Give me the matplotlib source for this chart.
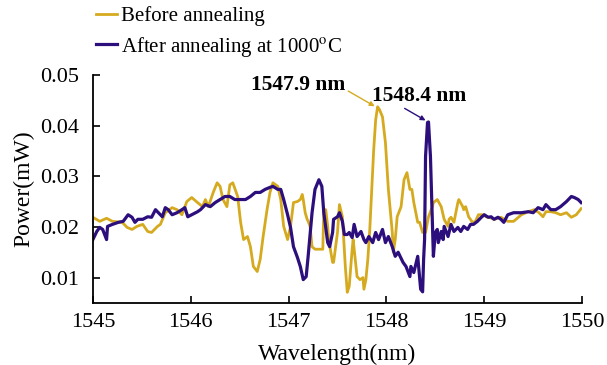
import numpy as np
import matplotlib
matplotlib.use("Agg")
import matplotlib.pyplot as plt

# values
wl_before = [1545.00, 1545.07, 1545.14, 1545.20, 1545.30, 1545.35, 1545.40, 1545.45, 1545.51, 1545.56,
             1545.60, 1545.66, 1545.69, 1545.74, 1545.81, 1545.86, 1545.91, 1545.96, 1546.01, 1546.07,
             1546.12, 1546.15, 1546.18, 1546.23, 1546.27, 1546.30, 1546.33, 1546.37, 1546.40, 1546.43,
             1546.48, 1546.51, 1546.54, 1546.58, 1546.61, 1546.64, 1546.68, 1546.71, 1546.74, 1546.78,
             1546.81, 1546.84, 1546.89, 1546.92, 1546.95, 1546.99, 1547.02, 1547.05, 1547.09, 1547.12,
             1547.14, 1547.15, 1547.17, 1547.19, 1547.20, 1547.22, 1547.24, 1547.27, 1547.31, 1547.35,
             1547.36, 1547.38, 1547.40, 1547.41, 1547.45, 1547.46, 1547.50, 1547.52, 1547.55, 1547.58,
             1547.60, 1547.62, 1547.65, 1547.66, 1547.70, 1547.73, 1547.76, 1547.77, 1547.79, 1547.81,
             1547.83, 1547.85, 1547.87, 1547.89, 1547.91, 1547.93, 1547.96, 1547.99, 1548.02, 1548.06,
             1548.07, 1548.09, 1548.11, 1548.15, 1548.18, 1548.21, 1548.24, 1548.26, 1548.28, 1548.32,
             1548.34, 1548.37, 1548.40, 1548.43, 1548.47, 1548.48, 1548.52, 1548.56, 1548.59, 1548.63,
             1548.64, 1548.66, 1548.69, 1548.73, 1548.74, 1548.78, 1548.79, 1548.81, 1548.84, 1548.88,
             1548.91, 1548.94, 1548.99, 1549.02, 1549.05, 1549.10, 1549.17, 1549.24, 1549.30, 1549.38,
             1549.45, 1549.51, 1549.56, 1549.60, 1549.63, 1549.68, 1549.73, 1549.78, 1549.84, 1549.89,
             1549.94, 1549.99]
p_before = [0.0219, 0.0211, 0.0217, 0.0211, 0.0209, 0.0199, 0.0195, 0.0201, 0.0205, 0.0191,
            0.0189, 0.0201, 0.0205, 0.0228, 0.0238, 0.0234, 0.0224, 0.0250, 0.0258, 0.0248,
            0.0240, 0.0254, 0.0240, 0.0268, 0.0287, 0.0280, 0.0254, 0.0240, 0.0283, 0.0287,
            0.0260, 0.0209, 0.0175, 0.0181, 0.0161, 0.0122, 0.0112, 0.0136, 0.0181, 0.0234,
            0.0268, 0.0287, 0.0280, 0.0254, 0.0201, 0.0175, 0.0201, 0.0248, 0.0250, 0.0254,
            0.0264, 0.0254, 0.0228, 0.0215, 0.0211, 0.0201, 0.0161, 0.0156, 0.0156, 0.0156,
            0.0234, 0.0234, 0.0201, 0.0175, 0.0130, 0.0130, 0.0189, 0.0244, 0.0220, 0.0122,
            0.0071, 0.0083, 0.0156, 0.0175, 0.0102, 0.0096, 0.0100, 0.0077, 0.0096, 0.0136,
            0.0195, 0.0274, 0.0352, 0.0411, 0.0437, 0.0431, 0.0417, 0.0366, 0.0274, 0.0189,
            0.0150, 0.0175, 0.0220, 0.0240, 0.0293, 0.0307, 0.0274, 0.0274, 0.0248, 0.0209,
            0.0209, 0.0189, 0.0189, 0.0220, 0.0240, 0.0248, 0.0254, 0.0240, 0.0215, 0.0201,
            0.0215, 0.0219, 0.0209, 0.0248, 0.0254, 0.0240, 0.0234, 0.0240, 0.0220, 0.0209,
            0.0211, 0.0224, 0.0224, 0.0220, 0.0219, 0.0215, 0.0219, 0.0211, 0.0211, 0.0224,
            0.0230, 0.0234, 0.0228, 0.0220, 0.0230, 0.0230, 0.0228, 0.0224, 0.0228, 0.0219,
            0.0224, 0.0236]

wl_after = [1545.00, 1545.04, 1545.07, 1545.10, 1545.14, 1545.15, 1545.20, 1545.26, 1545.31, 1545.36,
            1545.40, 1545.43, 1545.46, 1545.51, 1545.56, 1545.60, 1545.64, 1545.67, 1545.71, 1545.74,
            1545.77, 1545.81, 1545.86, 1545.91, 1545.94, 1545.97, 1546.01, 1546.07, 1546.10, 1546.15,
            1546.20, 1546.25, 1546.30, 1546.35, 1546.40, 1546.45, 1546.51, 1546.56, 1546.61, 1546.66,
            1546.71, 1546.76, 1546.81, 1546.84, 1546.89, 1546.92, 1546.95, 1546.99, 1547.02, 1547.05,
            1547.09, 1547.12, 1547.15, 1547.18, 1547.20, 1547.24, 1547.27, 1547.31, 1547.34, 1547.36,
            1547.40, 1547.42, 1547.45, 1547.46, 1547.50, 1547.52, 1547.55, 1547.57, 1547.60, 1547.62,
            1547.65, 1547.67, 1547.70, 1547.74, 1547.77, 1547.79, 1547.82, 1547.86, 1547.89, 1547.92,
            1547.96, 1547.99, 1548.02, 1548.06, 1548.09, 1548.12, 1548.17, 1548.20, 1548.24, 1548.25,
            1548.28, 1548.32, 1548.35, 1548.37, 1548.38, 1548.39, 1548.40, 1548.42, 1548.43, 1548.45,
            1548.47, 1548.48, 1548.50, 1548.52, 1548.53, 1548.56, 1548.58, 1548.59, 1548.63, 1548.66,
            1548.69, 1548.73, 1548.76, 1548.79, 1548.83, 1548.86, 1548.89, 1548.93, 1548.97, 1549.00,
            1549.04, 1549.07, 1549.10, 1549.14, 1549.17, 1549.20, 1549.24, 1549.30, 1549.38, 1549.45,
            1549.50, 1549.55, 1549.60, 1549.63, 1549.68, 1549.73, 1549.78, 1549.84, 1549.89, 1549.92,
            1549.96, 1549.99]
p_after = [0.0175, 0.0191, 0.0199, 0.0195, 0.0175, 0.0201, 0.0205, 0.0209, 0.0211, 0.0224,
           0.0219, 0.0209, 0.0215, 0.0215, 0.0220, 0.0219, 0.0234, 0.0228, 0.0220, 0.0238,
           0.0234, 0.0224, 0.0228, 0.0234, 0.0238, 0.0220, 0.0224, 0.0230, 0.0234, 0.0244,
           0.0240, 0.0248, 0.0254, 0.0260, 0.0260, 0.0254, 0.0254, 0.0254, 0.0260, 0.0268,
           0.0268, 0.0274, 0.0278, 0.0280, 0.0274, 0.0274, 0.0254, 0.0224, 0.0199, 0.0161,
           0.0140, 0.0122, 0.0096, 0.0102, 0.0142, 0.0228, 0.0274, 0.0293, 0.0280, 0.0228,
           0.0169, 0.0161, 0.0189, 0.0215, 0.0220, 0.0228, 0.0211, 0.0185, 0.0185, 0.0189,
           0.0179, 0.0205, 0.0181, 0.0191, 0.0175, 0.0169, 0.0181, 0.0169, 0.0189, 0.0175,
           0.0195, 0.0169, 0.0181, 0.0161, 0.0142, 0.0150, 0.0130, 0.0122, 0.0102, 0.0122,
           0.0110, 0.0142, 0.0077, 0.0072, 0.0136, 0.0175, 0.0339, 0.0406, 0.0407, 0.0339,
           0.0209, 0.0142, 0.0189, 0.0195, 0.0169, 0.0191, 0.0175, 0.0201, 0.0181, 0.0205,
           0.0191, 0.0199, 0.0191, 0.0201, 0.0195, 0.0205, 0.0205, 0.0211, 0.0219, 0.0224,
           0.0219, 0.0220, 0.0215, 0.0219, 0.0215, 0.0209, 0.0224, 0.0228, 0.0228, 0.0230,
           0.0228, 0.0238, 0.0234, 0.0244, 0.0234, 0.0234, 0.0240, 0.0250, 0.0260, 0.0258,
           0.0254, 0.0248]

labels = ["Before annealing", "After annealing at 1000$^{\\mathrm{o}}$C"]
peak_labels = ["1547.9 nm", "1548.4 nm"]
x_ticks = [1545, 1546, 1547, 1548, 1549, 1550]
y_ticks = [0.01, 0.02, 0.03, 0.04, 0.05]

gold = "#D6AA1F"
purple = "#2C0F7C"

plt.rcParams["font.family"] = ["Liberation Serif", "DejaVu Serif"]
plt.rcParams["mathtext.fontset"] = "stix"

fig = plt.figure(figsize=(6.07, 3.65), dpi=100)
ax = fig.add_axes([0.153, 0.170, 0.806, 0.625])

l1, = ax.plot(wl_before, p_before, color=gold, lw=2.0, label=labels[0])
l2, = ax.plot(wl_after, p_after, color=purple, lw=2.3, label=labels[1])

ax.set_xlim(1545, 1550)
ax.set_ylim(0.005, 0.05)
ax.set_xticks(x_ticks)
ax.set_yticks(y_ticks)
ax.set_xticklabels([str(t) for t in x_ticks])
ax.set_yticklabels([f"{t:.2f}" for t in y_ticks])
ax.tick_params(direction="in", length=5, width=1.2, labelsize=16)
ax.tick_params(axis="x", pad=7)
ax.tick_params(axis="y", pad=10)
ax.spines["top"].set_visible(False)
ax.spines["right"].set_visible(False)
for s in ["left", "bottom"]:
    ax.spines[s].set_linewidth(1.3)
ax.set_xlabel("Wavelength(nm)", fontsize=17, labelpad=9)
ax.set_ylabel("Power(mW)", fontsize=17, labelpad=4)

# peak annotations
ax.annotate(peak_labels[0], xy=(1547.88, 0.0438), xytext=(1547.10, 0.0479),
            ha="center", va="center", fontsize=15.5, fontweight="bold",
            arrowprops=dict(arrowstyle="-|>", color=gold, lw=1.0, mutation_scale=7,
                            shrinkA=0, shrinkB=0, relpos=(1.0, 0.3)))
ax.annotate(peak_labels[1], xy=(1548.40, 0.0410), xytext=(1548.33, 0.0459),
            ha="center", va="center", fontsize=15.5, fontweight="bold",
            arrowprops=dict(arrowstyle="-|>", color=purple, lw=1.0, mutation_scale=7,
                            shrinkA=0, shrinkB=0, relpos=(0.3, 0.0)))

fig.legend(handles=[l1, l2], loc="upper left", bbox_to_anchor=(0.145, 1.005),
           frameon=False, fontsize=15, handlelength=1.0, handletextpad=0.2,
           labelspacing=0.4, borderaxespad=0)

fig.savefig("out.png", dpi=100)
